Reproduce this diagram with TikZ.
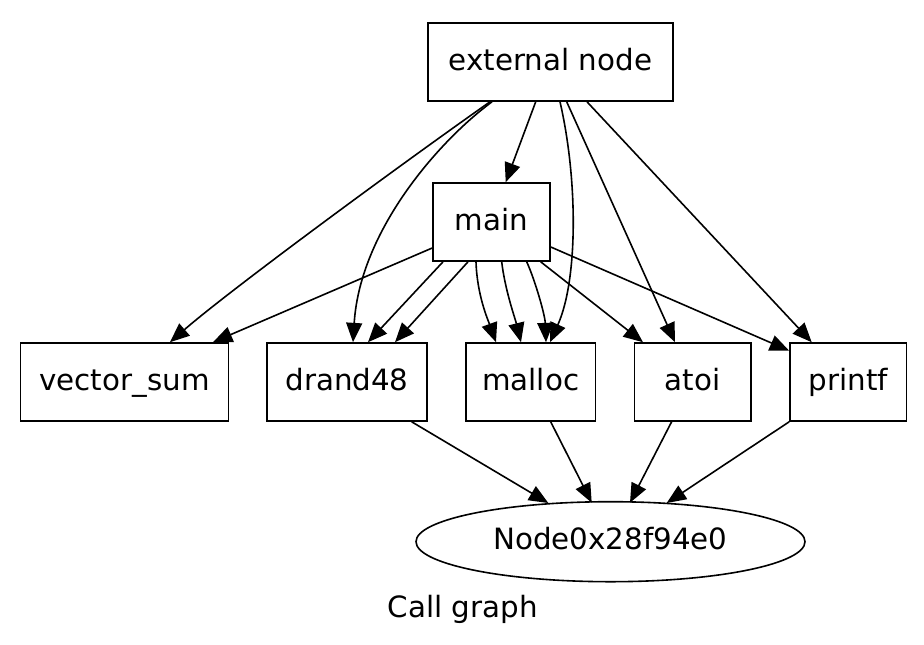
\documentclass[tikz,border=0pt]{standalone}
\usepackage{fontspec}
\setmainfont{DejaVu Sans}
\usetikzlibrary{arrows.meta,shapes.geometric,calc}
\begin{document}
\begin{tikzpicture}[x=0.75pt,y=-0.75pt,
  every node/.style={font=\fontsize{22}{26}\selectfont, text height=16.5pt, text depth=4.4pt},
  fnbox/.style={draw, line width=1.2pt, inner sep=0pt, minimum height=58.5pt},
  callarrow/.style={draw, line width=1.2pt, -{Triangle[length=14.5pt,width=12pt]}},
]
\fill[white] (0,0) rectangle (924,644);
\useasboundingbox (0,0) rectangle (924,644);

\node[fnbox, minimum width=183.75pt] (ext) at (550.5,62) {external node};
\node[fnbox, minimum width=87.75pt] (main) at (491.5,222) {main};
\node[fnbox, minimum width=156pt] (vs) at (124.5,382) {vector\_sum};
\node[fnbox, minimum width=120pt] (dr) at (347,382) {drand48};
\node[fnbox, minimum width=97.1pt] (ma) at (530.7,382) {malloc};
\node[fnbox, minimum width=87.4pt] (at) at (692.6,382) {atoi};
\node[fnbox, minimum width=87.5pt] (pr) at (848.3,382) {printf};
\node[draw, ellipse, line width=1.2pt, inner sep=0pt, minimum width=291.75pt, minimum height=60pt] (N) at (610.5,541.7) {Node0x28f94e0};
\node (lab) at (462.7,609.7) {Call graph};

% external node edges
\draw[callarrow] ($(ext.south)+(-14.8,0)$) -- ($(main.north)+(14.2,0)$);
\draw[callarrow] ($(ext.south)+(-60.5,0)$) .. controls (400,165) and (230,290) .. ($(vs.north)+(45.5,0)$);
\draw[callarrow] ($(ext.south)+(-58.5,0)$) .. controls (440,140) and (360,230) .. ($(dr.north)+(6,0)$);
\draw[callarrow] ($(ext.south)+(9.5,0)$) .. controls (578,180) and (578,280) .. ($(ma.north)+(19.3,0)$);
\draw[callarrow] ($(ext.south)+(16.2,0)$) -- ($(at.north)+(-17.6,0)$);
\draw[callarrow] ($(ext.south)+(36.5,0)$) -- ($(pr.north)+(-36.6,0)$);

% main edges
\draw[callarrow] ($(main.west)+(0,26)$) -- ($(vs.north)+(88.5,0)$);
\draw[callarrow] ($(main.south)+(-48.5,0)$) -- ($(dr.north)+(21,0)$);
\draw[callarrow] ($(main.south)+(-23.5,0)$) -- ($(dr.north)+(48,0)$);
\draw[callarrow] ($(main.south)+(-15.5,0)$) .. controls (477,295) and (488,320) .. ($(ma.north)+(-34.7,0)$);
\draw[callarrow] ($(main.south)+(10.2,0)$) .. controls (505,290) and (515,318) .. ($(ma.north)+(-9.7,0)$);
\draw[callarrow] ($(main.south)+(35.2,0)$) .. controls (535,280) and (545,315) .. ($(ma.north)+(15.3,0)$);
\draw[callarrow] ($(main.south)+(49.2,0)$) -- ($(at.north)+(-49.6,0)$);
\draw[callarrow] ($(main.east)+(0,25)$) -- ($(pr.west)+(0,-31.3)$);

% edges to Node0x28f94e0
\draw[callarrow] ($(dr.south)+(64.7,0)$) -- ($(N.center)+(-62.2,-38.7)$);
\draw[callarrow] ($(ma.south)+(20,0)$) -- ($(N.center)+(-18.8,-39)$);
\draw[callarrow] ($(at.south)+(-21,0)$) -- ($(N.center)+(19.5,-39)$);
\draw[callarrow] (pr.south west) -- ($(N.center)+(56.2,-38.7)$);
\end{tikzpicture}
\end{document}
